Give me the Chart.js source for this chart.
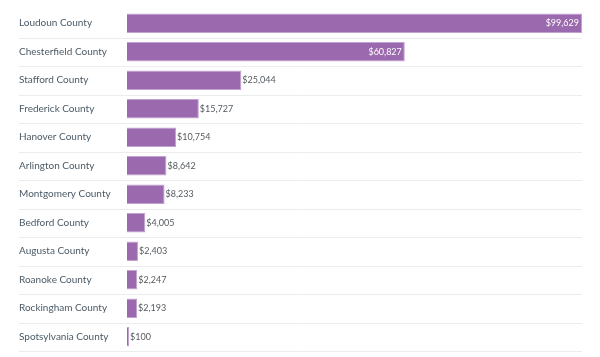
<!DOCTYPE html>
<html>
<head>
<meta charset="utf-8">
<script src="https://cdn.jsdelivr.net/npm/chart.js@4/dist/chart.umd.min.js"></script>
<style>
  html, body { margin: 0; padding: 0; background: #ffffff; }
  #wrap { width: 600px; height: 357px; position: relative; }
</style>
</head>
<body>
<div id="wrap"><canvas id="c" width="600" height="357"></canvas></div>
<script>
const categories = [
  "Loudoun County", "Chesterfield County", "Stafford County", "Frederick County",
  "Hanover County", "Arlington County", "Montgomery County", "Bedford County",
  "Augusta County", "Roanoke County", "Rockingham County", "Spotsylvania County"
];
const values = [99629, 60827, 25044, 15727, 10754, 8642, 8233, 4005, 2403, 2247, 2193, 100];
const insideLabelCount = 2;

const fmt = v => "$" + v.toLocaleString("en-US");

const separatorPlugin = {
  id: "separators",
  beforeDatasetsDraw(chart) {
    const ctx = chart.ctx;
    const ys = chart.scales.y;
    const area = chart.chartArea;
    ctx.save();
    ctx.strokeStyle = "#ececec";
    ctx.lineWidth = 1;
    for (let i = 0; i < categories.length; i++) {
      const y0 = ys.getPixelForValue(i);
      const y1 = i < categories.length - 1 ? ys.getPixelForValue(i + 1) : y0 + (y0 - ys.getPixelForValue(i - 1));
      const y = Math.round((y0 + y1) / 2) + 0.5;
      ctx.beginPath();
      ctx.moveTo(19, y);
      ctx.lineTo(area.right, y);
      ctx.stroke();
    }
    ctx.restore();
  }
};

const valueLabelPlugin = {
  id: "valueLabels",
  afterDatasetsDraw(chart) {
    const ctx = chart.ctx;
    const meta = chart.getDatasetMeta(0);
    ctx.save();
    ctx.font = "9px Lato";
    ctx.textBaseline = "middle";
    meta.data.forEach((bar, i) => {
      const txt = fmt(values[i]);
      if (i < insideLabelCount) {
        ctx.fillStyle = "#ffffff";
        ctx.textAlign = "right";
        ctx.fillText(txt, bar.x - 3, bar.y);
      } else {
        ctx.fillStyle = "#555b60";
        ctx.textAlign = "left";
        ctx.fillText(txt, bar.x + 1, bar.y);
      }
    });
    ctx.restore();
  }
};

new Chart(document.getElementById("c"), {
  type: "bar",
  data: {
    labels: categories,
    datasets: [{
      data: values,
      backgroundColor: "#9b69ad",
      borderColor: "#c2a2d0",
      borderWidth: 1,
      minBarLength: 2,
      barPercentage: 0.68,
      categoryPercentage: 1.0
    }]
  },
  options: {
    indexAxis: "y",
    responsive: false,
    animation: false,
    layout: { padding: { left: 19, right: 18, top: 9, bottom: 6 } },
    plugins: { legend: { display: false }, tooltip: { enabled: false } },
    scales: {
      x: {
        display: false,
        min: 0,
        max: Math.max(...values)
      },
      y: {
        grid: { display: false },
        border: { display: false },
        ticks: {
          crossAlign: "far",
          padding: 0,
          color: "#4b5a66",
          font: { family: "Lato", size: 10 }
        },
        afterFit(scale) { scale.width = 108; }
      }
    }
  },
  plugins: [separatorPlugin, valueLabelPlugin]
});
</script>
</body>
</html>
